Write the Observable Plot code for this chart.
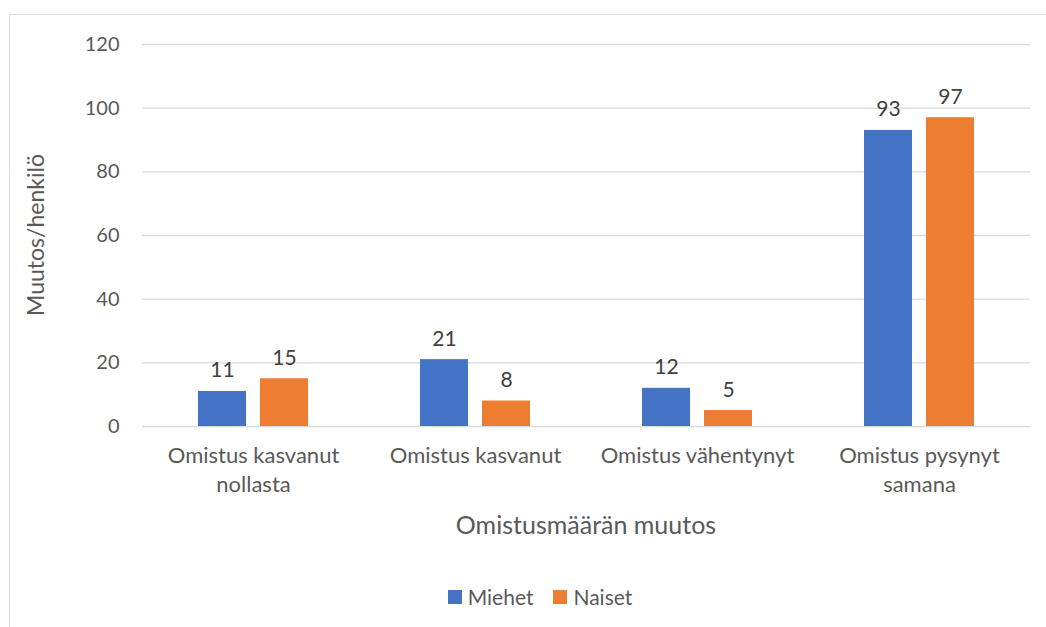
<!DOCTYPE html>
<html>
<head>
<meta charset="utf-8">
<script src="https://cdn.jsdelivr.net/npm/d3@7"></script>
<script src="https://cdn.jsdelivr.net/npm/@observablehq/plot@0.6"></script>
<style>
  html, body { margin: 0; padding: 0; background: #fff; overflow: hidden; }
  #wrap { position: relative; width: 1046px; height: 627px; font-family: Lato, "Open Sans", sans-serif; color: #595959; }
  #frame { position: absolute; left: 9px; top: 14px; width: 1100px; height: 700px; border: 1px solid #d9d9d9; box-sizing: border-box; }
  #chart { position: absolute; left: 0; top: 0; }
  .title { position: absolute; white-space: nowrap; }
  #xtitle { left: 586px; top: 524px; font-size: 25px; transform: translate(-50%, -50%); }
  #ytitle { left: 35px; top: 235px; font-size: 23px; transform: translate(-50%, -50%) rotate(-90deg); }
  #legend { position: absolute; left: 0; width: 1080px; top: 584px; display: flex; justify-content: center; gap: 20px; font-size: 21px; }
  .item { display: flex; align-items: center; gap: 6px; }
  .sw { width: 14px; height: 14px; display: inline-block; }
</style>
</head>
<body>
<div id="wrap">
  <div id="frame"></div>
  <div id="chart"></div>
  <div class="title" id="xtitle">Omistusmäärän muutos</div>
  <div class="title" id="ytitle">Muutos/henkilö</div>
  <div id="legend"></div>
</div>
<script>
const categories = ["Omistus kasvanut nollasta", "Omistus kasvanut", "Omistus vähentynyt", "Omistus pysynyt samana"];
const categoryLabels = ["Omistus kasvanut\nnollasta", "Omistus kasvanut", "Omistus vähentynyt", "Omistus pysynyt\nsamana"];
const series = ["Miehet", "Naiset"];
const miehet = [11, 21, 12, 93];
const naiset = [15, 8, 5, 97];
const yTicks = [0, 20, 40, 60, 80, 100, 120];
const colors = ["#4472C4", "#ED7D31"];

const data = categories.flatMap((c, i) => [
  {category: c, series: "Miehet", value: miehet[i]},
  {category: c, series: "Naiset", value: naiset[i]}
]);
const labelOf = new Map(categories.map((c, i) => [c, categoryLabels[i]]));

const chart = Plot.plot({
  width: 1046,
  height: 575,
  marginLeft: 142,
  marginRight: 16,
  marginTop: 44,
  marginBottom: 149,
  style: {fontFamily: "Lato, 'Open Sans', sans-serif", fontSize: "20px", color: "#595959", background: "transparent"},
  fx: {domain: categories, padding: 0, label: null},
  x: {domain: series, paddingInner: 0.22, paddingOuter: 0.872, axis: null},
  y: {domain: [0, 120], label: null},
  color: {domain: series, range: colors},
  marks: [
    Plot.gridY(yTicks, {stroke: "#d9d9d9", strokeOpacity: 1, strokeWidth: 1.3}),
    Plot.barY(data, {fx: "category", x: "series", y: "value", fill: "series"}),
    Plot.text(data, {fx: "category", x: "series", y: "value", text: d => String(d.value),
      lineAnchor: "bottom", dy: -14, fill: "#404040", fontSize: 21}),
    Plot.axisY(yTicks, {tickSize: 0, tickPadding: 23, label: null, fontSize: 20, fill: "#595959"}),
    Plot.axisFx({anchor: "bottom", tickSize: 0, tickPadding: 16, label: null, tickFormat: d => labelOf.get(d),
      lineHeight: 1.32, fontSize: 22, fill: "#595959"})
  ]
});
document.getElementById("chart").appendChild(chart);

const legend = document.getElementById("legend");
series.forEach((s, i) => {
  const item = document.createElement("div");
  item.className = "item";
  const sw = document.createElement("span");
  sw.className = "sw";
  sw.style.background = colors[i];
  const t = document.createElement("span");
  t.textContent = s;
  item.appendChild(sw);
  item.appendChild(t);
  legend.appendChild(item);
});
</script>
</body>
</html>
